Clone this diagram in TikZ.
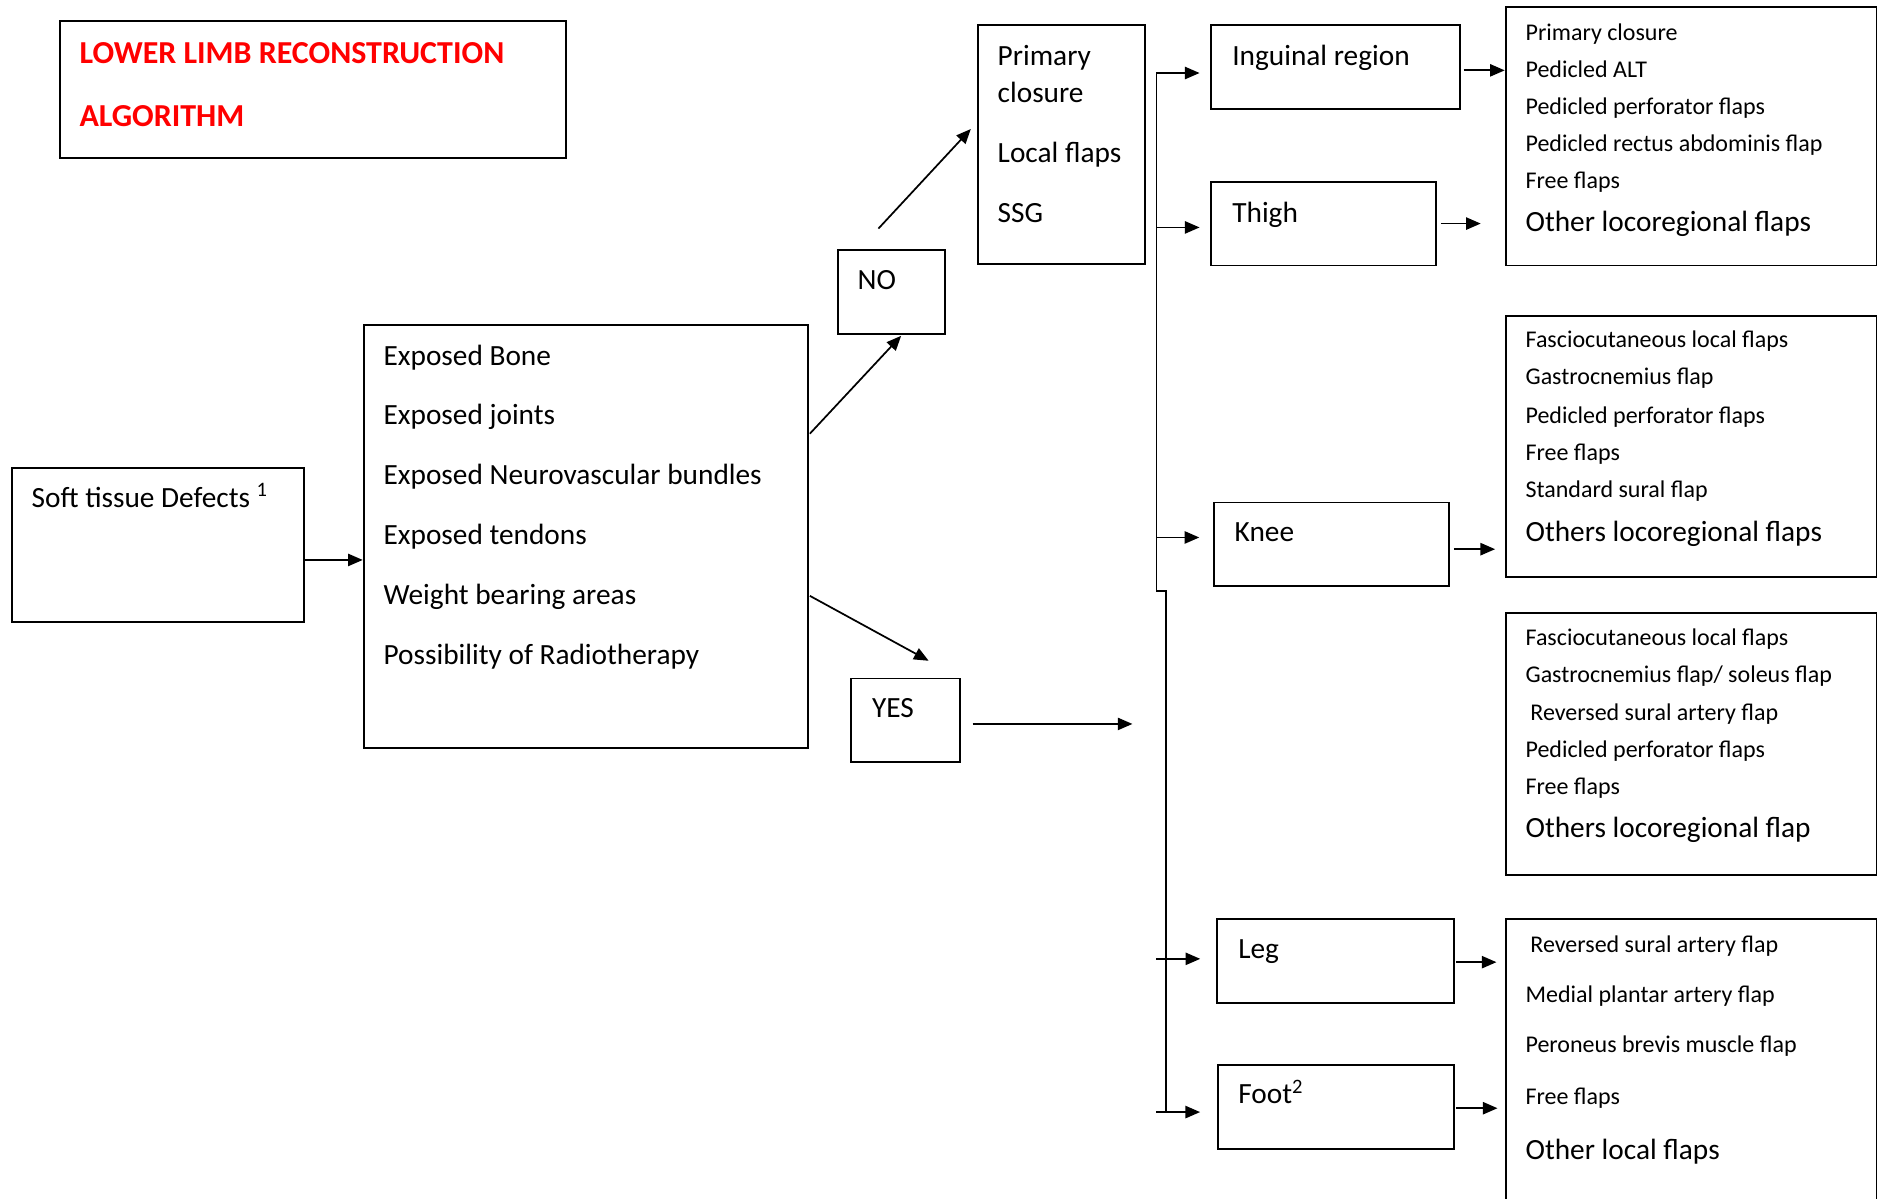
\documentclass[tikz,border=0pt]{standalone}
\usepackage{fontspec}
\setmainfont{Carlito}
\usetikzlibrary{arrows.meta,calc}
\begin{document}
\begin{tikzpicture}[x=0.449pt,y=-0.449pt,
  box/.style n args={2}{draw, line width=0.7pt, rectangle, inner sep=0pt, anchor=north west,
     minimum width=#1*0.449pt, minimum height=#2*0.449pt},
  arr/.style={-{Triangle[length=5.5pt,width=4.6pt]}, line width=0.65pt},
  trunk/.style={line width=0.65pt},
  t/.style={anchor=base west, inner sep=0pt, font=\fontsize{11}{13}\selectfont},
  s/.style={anchor=base west, inner sep=0pt, font=\fontsize{9}{11}\selectfont},
  ttl/.style={anchor=base west, inner sep=0pt, font=\fontsize{12}{14}\selectfont\bfseries, text=red}]
\useasboundingbox (0,0) rectangle (1568,1001);

% boxes
\node[box={423}{114}] (title) at (49,17) {};
\node[box={244}{129}] (soft) at (9,390) {};
\node[box={371}{353}] (exp) at (303,271) {};
\node[box={90}{70}] (no) at (699,208) {};
\node[box={140}{200}] (prim) at (816,20) {};
\node[box={91}{70}] (yes) at (710,566) {};
\node[box={208}{70}] (ing) at (1011,20) {};
\node[box={188}{70}] (thigh) at (1011,151) {};
\node[box={197}{70}] (knee) at (1013,419) {};
\node[box={198}{70}] (leg) at (1016,767) {};
\node[box={197}{70}] (foot) at (1017,889) {};
\node[box={310}{216}] (r1) at (1257,5) {};
\node[box={310}{218}] (r2) at (1257,263) {};
\node[box={310}{219}] (r3) at (1257,511) {};
\node[box={310}{260}] (r4) at (1257,767) {};

% texts
\node[ttl] (tt1) at (66,53) {LOWER LIMB RECONSTRUCTION};
\node[ttl] (tt2) at (66,106) {ALGORITHM};
\node[t] (st) at (26,424) {Soft tissue Defects \textsuperscript{1}};
\node[t] (e1) at (320,305) {Exposed Bone};
\node[t] (e2) at (320,355) {Exposed joints};
\node[t] (e3) at (320,405) {Exposed Neurovascular bundles};
\node[t] (e4) at (320,455) {Exposed tendons};
\node[t] (e5) at (320,505) {Weight bearing areas};
\node[t] (e6) at (320,555) {Possibility of Radiotherapy};
\node[t] (not) at (716,242) {NO};
\node[t] (p1) at (833,55) {Primary};
\node[t] (p2) at (833,86) {closure};
\node[t] (p3) at (833,136) {Local flaps};
\node[t] (p4) at (833,186) {SSG};
\node[t] (yest) at (728,599) {YES};
\node[t] (ingt) at (1029,55) {Inguinal region};
\node[t] (thight) at (1029,186) {Thigh};
\node[t] (kneet) at (1031,452) {Knee};
\node[t] (legt) at (1034,801) {Leg};
\node[t] (foott) at (1034,922) {Foot\textsuperscript{2}};

\node[s] (a1) at (1274,33.5) {Primary closure};
\node[s] (a2) at (1274,64.5) {Pedicled ALT};
\node[s] (a3) at (1274,95.5) {Pedicled perforator flaps};
\node[s] (a4) at (1274,126.5) {Pedicled rectus abdominis flap};
\node[s] (a5) at (1274,157.5) {Free flaps};
\node[t] (a6) at (1274,193) {Other locoregional flaps};

\node[s] (b1) at (1274,290.5) {Fasciocutaneous local flaps};
\node[s] (b2) at (1274,321.5) {Gastrocnemius flap};
\node[s] (b3) at (1274,353.5) {Pedicled perforator flaps};
\node[s] (b4) at (1274,384.5) {Free flaps};
\node[s] (b5) at (1274,415.5) {Standard sural flap};
\node[t] (b6) at (1274,452) {Others locoregional flaps};

\node[s] (c1) at (1274,539.5) {Fasciocutaneous local flaps};
\node[s] (c2) at (1274,570.5) {Gastrocnemius flap/ soleus flap};
\node[s] (c3) at (1278,601.5) {Reversed sural artery flap};
\node[s] (c4) at (1274,632.5) {Pedicled perforator flaps};
\node[s] (c5) at (1274,663.5) {Free flaps};
\node[t] (c6) at (1274,700) {Others locoregional flap};

\node[s] (d1) at (1278,795.5) {Reversed sural artery flap};
\node[s] (d2) at (1274,837.5) {Medial plantar artery flap};
\node[s] (d3) at (1274,879.5) {Peroneus brevis muscle flap};
\node[s] (d4) at (1274,922.5) {Free flaps};
\node[t] (d5) at (1274,969) {Other local flaps};

% connectors
\draw[arr] (soft.east) ++(0,12.5) coordinate (s1) -- (s1 -| exp.west);
\draw[arr] (exp.east) ++(1,-86) -- ([xshift=8*0.449pt,yshift=-1*0.449pt]no.south);
\draw[arr] ([xshift=-11*0.449pt,yshift=17*0.449pt]no.north) -- ([xshift=-5*0.449pt,yshift=13*0.449pt]prim.west);
\draw[arr] (exp.east) ++(1,49.5) -- ([xshift=19.5*0.449pt,yshift=14*0.449pt]yes.north);
\coordinate (yend) at (946,604);
\draw[arr] (yes.east) ++(10,3) coordinate (y1) -- (y1 -| yend);

% trunk
\coordinate (k1) at (966,61);
\coordinate (k2) at (966,190);
\coordinate (k3) at (966,449);
\coordinate (km) at (966,494);
\coordinate (km2) at (974,494);
\coordinate (k4) at (966,801);
\coordinate (k5) at (966,929);
\draw[trunk] (k1) -- (km) -- (km2) -- (k5 -| km2);
\draw[arr, shorten >=4pt] (k1) -- (k1 -| ing.west);
\draw[arr, shorten >=4pt] (k2) -- (k2 -| thigh.west);
\draw[arr, shorten >=5pt] (k3) -- (k3 -| knee.west);
\draw[arr, shorten >=6pt] (k4) -- (k4 -| leg.west);
\draw[arr, shorten >=6.5pt] (k5) -- (k5 -| foot.west);

% right arrows
\draw[arr] (ing.east) ++(2,3) coordinate (g1) -- (g1 -| r1.west);
\draw[arr, shorten >=9pt] (thigh.east) ++(3,0) coordinate (g2) -- (g2 -| r1.west);
\draw[arr, shorten >=3.6pt] (knee.east) ++(3,4) coordinate (g3) -- (g3 -| r2.west);
\draw[arr, shorten >=3.1pt] (leg.east) ++(1,1) coordinate (g4) -- (g4 -| r4.west);
\draw[arr, shorten >=2.7pt] (foot.east) ++(1,1) coordinate (g5) -- (g5 -| r4.west);
\end{tikzpicture}
\end{document}
